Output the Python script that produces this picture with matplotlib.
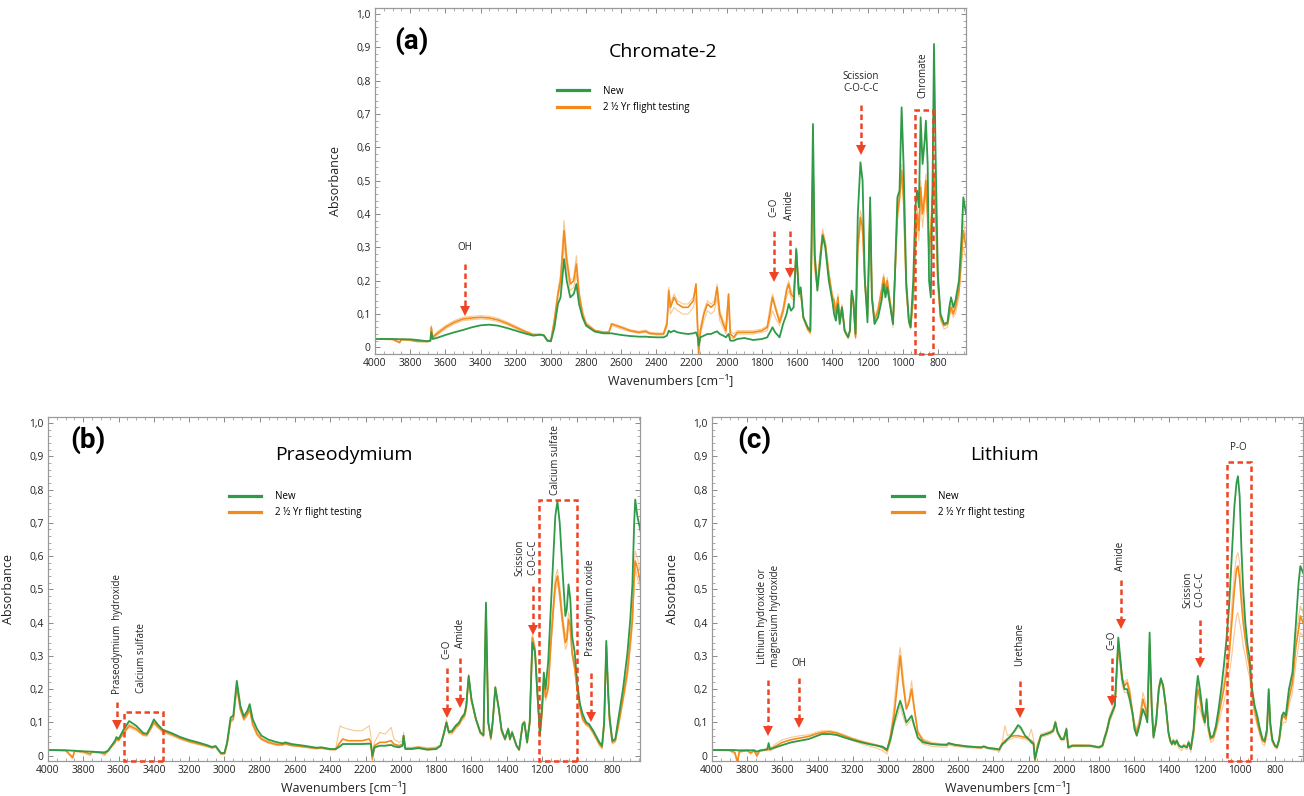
import matplotlib
matplotlib.use('Agg')
import matplotlib.pyplot as plt
from matplotlib.patches import Rectangle
from matplotlib.lines import Line2D
from matplotlib.ticker import MultipleLocator, FuncFormatter

plt.rcParams['font.family'] = ['Open Sans', 'DejaVu Sans']

# ---------------- data: panel (a) Chromate-2 ----------------
A_WN = [4000, 3900, 3860, 3850, 3800, 3760, 3700, 3685, 3680, 3672,
        3650, 3600, 3550, 3500, 3450, 3400, 3350, 3300, 3250, 3200,
        3150, 3100, 3060, 3040, 3020, 3000, 2980, 2960, 2945, 2925,
        2910, 2890, 2870, 2855, 2840, 2820, 2800, 2750, 2700, 2670,
        2655, 2600, 2550, 2500, 2460, 2440, 2400, 2360, 2340, 2330,
        2320, 2300, 2280, 2250, 2220, 2190, 2175, 2165, 2160, 2150,
        2130, 2110, 2090, 2070, 2055, 2040, 2020, 2005, 1990, 1980,
        1960, 1940, 1900, 1850, 1800, 1770, 1755, 1740, 1725, 1700,
        1680, 1660, 1648, 1635, 1620, 1605, 1590, 1580, 1565, 1540,
        1525, 1510, 1500, 1485, 1470, 1455, 1440, 1420, 1400, 1390,
        1380, 1368, 1358, 1345, 1330, 1310, 1300, 1290, 1280, 1268,
        1255, 1240, 1228, 1215, 1200, 1185, 1175, 1160, 1140, 1120,
        1108, 1098, 1088, 1070, 1055, 1045, 1030, 1018, 1006, 995,
        980, 965, 955, 940, 928, 918, 908, 898, 887, 875,
        868, 858, 850, 840, 830, 822, 812, 800, 785, 765,
        745, 735, 725, 712, 700, 680, 665, 655, 640]
A_NEW = [.025, .025, .024, .024, .024, .022, .018, .02, .045, .025,
         .028, .037, .045, .052, .06, .066, .068, .065, .058, .05,
         .042, .035, .038, .036, .02, .018, .06, .13, .15, .265,
         .2, .15, .16, .19, .13, .09, .065, .047, .042, .042,
         .042, .037, .034, .032, .032, .031, .03, .03, .035, .05,
         .045, .05, .045, .042, .04, .042, .045, .03, .005, .03,
         .035, .04, .04, .045, .048, .04, .035, .03, .04, .02,
         .02, .025, .028, .022, .025, .03, .045, .06, .045, .03,
         .07, .1, .13, .11, .12, .295, .16, .18, .09, .06,
         .05, .67, .28, .17, .25, .335, .3, .2, .14, .1,
         .08, .13, .07, .12, .05, .03, .05, .17, .14, .04,
         .4, .555, .5, .2, .075, .45, .15, .07, .09, .14,
         .19, .15, .18, .12, .07, .2, .45, .47, .72, .55,
         .2, .08, .06, .2, .42, .47, .42, .69, .55, .62,
         .68, .55, .2, .15, .5, .91, .55, .22, .1, .07,
         .075, .12, .15, .12, .14, .2, .33, .45, .4]
A_AGED = [.025, .024, .015, .024, .022, .018, .018, .02, .06, .03,
          .04, .06, .075, .085, .088, .09, .088, .082, .072, .06,
          .048, .038, .038, .036, .02, .02, .08, .16, .2, .35,
          .26, .19, .2, .25, .16, .1, .07, .05, .045, .045,
          .07, .06, .05, .045, .048, .042, .04, .04, .07, .17,
          .12, .15, .13, .12, .12, .14, .19, .05, -.02, .05,
          .1, .13, .12, .13, .18, .1, .07, .05, .16, .04,
          .03, .045, .045, .045, .05, .06, .1, .15, .12, .075,
          .11, .17, .19, .16, .15, .29, .16, .17, .09, .055,
          .045, .55, .25, .18, .27, .34, .31, .22, .15, .14,
          .1, .15, .08, .12, .05, .03, .05, .16, .13, .03,
          .3, .39, .36, .2, .1, .42, .15, .08, .11, .17,
          .21, .17, .2, .13, .07, .2, .4, .45, .53, .45,
          .18, .08, .06, .15, .3, .4, .35, .48, .4, .45,
          .5, .4, .28, .35, .45, .52, .4, .2, .09, .065,
          .07, .1, .12, .1, .12, .17, .28, .35, .3]
A_AGED_HI = [.026, .025, .024, .025, .024, .020, .020, .021, .065, .032,
             .045, .065, .08, .09, .093, .095, .093, .087, .076, .064,
             .051, .04, .04, .038, .022, .022, .09, .17, .22, .38,
             .28, .2, .21, .275, .17, .11, .075, .052, .047, .047,
             .072, .063, .053, .048, .052, .045, .043, .043, .08, .18,
             .13, .16, .14, .13, .13, .15, .19, .06, 0, .06,
             .11, .14, .13, .14, .19, .11, .08, .06, .16, .05,
             .04, .05, .05, .05, .055, .065, .12, .16, .13, .085,
             .12, .18, .2, .17, .16, .3, .17, .18, .095, .06,
             .05, .6, .27, .19, .28, .355, .32, .23, .16, .15,
             .11, .16, .09, .13, .055, .035, .055, .17, .14, .035,
             .32, .41, .38, .21, .11, .43, .16, .09, .12, .18,
             .22, .18, .21, .14, .08, .21, .42, .47, .55, .47,
             .19, .09, .065, .17, .33, .42, .38, .5, .42, .47,
             .52, .42, .3, .37, .47, .55, .42, .21, .1, .07,
             .075, .11, .13, .11, .13, .18, .3, .38, .33]
A_AGED_LO = [.024, .023, .012, .022, .020, .016, .016, .019, .05, .028,
             .035, .055, .07, .08, .083, .085, .083, .077, .068, .056,
             .045, .036, .036, .034, .018, .018, .07, .15, .18, .31,
             .23, .17, .18, .22, .15, .09, .065, .048, .043, .043,
             .065, .055, .047, .042, .045, .04, .037, .037, .06, .14,
             .1, .12, .11, .1, .1, .12, .15, .04, -.02, .04,
             .08, .11, .1, .11, .15, .08, .06, .04, .12, .03,
             .025, .04, .04, .04, .045, .05, .08, .11, .09, .065,
             .1, .15, .17, .15, .14, .28, .15, .16, .085, .05,
             .04, .5, .23, .17, .26, .33, .3, .21, .14, .12,
             .09, .14, .07, .11, .045, .025, .045, .15, .12, .025,
             .28, .37, .34, .18, .09, .4, .14, .07, .1, .16,
             .2, .16, .19, .12, .06, .19, .38, .43, .5, .43,
             .17, .07, .055, .13, .28, .36, .32, .45, .36, .42,
             .47, .36, .25, .3, .42, .48, .36, .18, .08, .055,
             .06, .09, .11, .09, .1, .15, .25, .3, .27]

# ---------------- data: panel (b) Praseodymium ----------------
B_WN = [4000, 3900, 3860, 3850, 3800, 3760, 3750, 3700, 3680, 3660,
        3640, 3620, 3612, 3600, 3570, 3540, 3500, 3460, 3440, 3420,
        3400, 3380, 3350, 3300, 3250, 3200, 3150, 3100, 3070, 3050,
        3020, 3000, 2985, 2965, 2950, 2930, 2910, 2890, 2870, 2857,
        2840, 2815, 2790, 2750, 2700, 2670, 2655, 2620, 2550, 2480,
        2450, 2400, 2370, 2345, 2330, 2300, 2260, 2220, 2180, 2170,
        2162, 2150, 2120, 2090, 2055, 2040, 2010, 1990, 1985, 1975,
        1940, 1900, 1850, 1800, 1775, 1755, 1742, 1728, 1710, 1690,
        1670, 1655, 1640, 1630, 1616, 1600, 1575, 1550, 1532, 1518,
        1505, 1490, 1480, 1465, 1445, 1430, 1410, 1392, 1382, 1370,
        1345, 1330, 1310, 1300, 1285, 1270, 1255, 1240, 1228, 1212,
        1200, 1190, 1180, 1165, 1150, 1135, 1125, 1113, 1100, 1085,
        1068, 1060, 1050, 1040, 1030, 1015, 1000, 985, 970, 950,
        934, 910, 890, 875, 860, 848, 836, 826, 818, 802,
        785, 765, 740, 716, 700, 688, 678, 672, 660, 640]
B_NEW = [.017, .016, .015, .015, .013, .012, .012, .01, .01, .015,
         .03, .045, .056, .05, .08, .104, .09, .068, .066, .085,
         .109, .095, .078, .068, .056, .047, .04, .032, .026, .029,
         .008, .008, .04, .115, .12, .225, .15, .118, .135, .155,
         .11, .08, .06, .048, .04, .037, .04, .035, .03, .024,
         .025, .02, .02, .028, .035, .035, .035, .035, .036, .035,
         0, .025, .03, .03, .032, .028, .025, .03, .06, .02,
         .02, .023, .018, .02, .03, .07, .1, .07, .075, .09,
         .1, .115, .125, .15, .24, .17, .11, .07, .062, .46,
         .1, .055, .1, .205, .14, .08, .05, .08, .05, .07,
         .03, .018, .095, .1, .04, .1, .34, .31, .2, .065,
         .15, .25, .2, .285, .45, .615, .72, .765, .70, .565,
         .42, .44, .515, .47, .36, .31, .215, .155, .125, .1,
         .095, .075, .055, .04, .03, .1, .345, .2, .12, .045,
         .05, .12, .205, .31, .41, .515, .70, .77, .72, .67]
B_AGED = [.017, .016, -.005, .014, .012, .005, .012, .01, .005, .014,
          .028, .04, .05, .046, .07, .09, .08, .063, .062, .08,
          .1, .088, .074, .064, .052, .043, .036, .029, .024, .027,
          .006, .006, .035, .105, .11, .21, .14, .11, .125, .14,
          .095, .065, .05, .04, .033, .033, .036, .031, .027, .022,
          .023, .019, .019, .04, .05, .045, .045, .045, .05, .04,
          -.01, .03, .04, .04, .045, .035, .03, .035, .06, .022,
          .022, .025, .02, .022, .03, .07, .1, .07, .07, .085,
          .095, .11, .12, .14, .235, .165, .11, .07, .06, .45,
          .1, .05, .1, .205, .14, .075, .05, .08, .05, .07,
          .03, .018, .095, .1, .04, .1, .355, .32, .2, .06,
          .13, .225, .175, .205, .34, .45, .515, .54, .49, .41,
          .34, .35, .41, .39, .31, .265, .195, .145, .11, .095,
          .09, .07, .05, .035, .025, .1, .33, .19, .11, .04,
          .045, .1, .175, .255, .34, .41, .535, .585, .565, .515]
B_AGED_HI = [.018, .017, .015, .015, .013, .012, .013, .011, .01, .016,
             .03, .045, .055, .05, .075, .095, .085, .066, .065, .083,
             .104, .092, .077, .067, .055, .046, .039, .031, .026, .029,
             .008, .008, .04, .11, .115, .215, .145, .113, .13, .145,
             .1, .07, .053, .043, .035, .035, .038, .033, .029, .024,
             .025, .021, .021, .09, .085, .08, .075, .075, .09, .06,
             0, .04, .07, .065, .085, .05, .04, .045, .07, .025,
             .025, .028, .024, .026, .033, .075, .108, .075, .075, .09,
             .1, .118, .128, .15, .245, .17, .115, .073, .063, .46,
             .105, .053, .105, .21, .145, .08, .053, .085, .053, .075,
             .033, .02, .1, .105, .045, .11, .365, .33, .21, .065,
             .14, .235, .185, .215, .36, .47, .535, .56, .51, .43,
             .36, .37, .43, .41, .32, .275, .205, .155, .115, .1,
             .095, .075, .055, .04, .03, .11, .34, .2, .12, .045,
             .05, .11, .185, .275, .36, .43, .565, .615, .595, .545]
B_AGED_LO = [.016, .015, -.01, .013, .008, 0, .01, .006, 0, .012,
             .025, .038, .048, .044, .065, .085, .075, .06, .058, .075,
             .095, .084, .07, .06, .049, .04, .033, .027, .022, .025,
             .004, .004, .03, .1, .105, .2, .135, .105, .12, .135,
             .09, .06, .047, .037, .03, .031, .034, .029, .025, .02,
             .021, .017, .017, .03, .035, .037, .037, .037, .038, .035,
             -.015, .02, .03, .03, .035, .03, .025, .03, .05, .02,
             .019, .021, .017, .019, .028, .065, .092, .065, .065, .08,
             .09, .105, .113, .135, .225, .16, .105, .065, .057, .44,
             .095, .047, .095, .2, .135, .07, .045, .075, .045, .065,
             .027, .015, .09, .095, .035, .09, .345, .31, .19, .055,
             .12, .215, .165, .195, .32, .43, .495, .52, .47, .39,
             .32, .33, .39, .37, .3, .255, .185, .135, .105, .09,
             .085, .065, .045, .03, .02, .09, .32, .18, .1, .035,
             .04, .09, .165, .235, .32, .39, .515, .565, .535, .495]

# ---------------- data: panel (c) Lithium ----------------
C_WN = [4000, 3900, 3870, 3855, 3845, 3800, 3780, 3760, 3745, 3730,
        3700, 3685, 3678, 3670, 3640, 3600, 3550, 3500, 3450, 3410,
        3375, 3330, 3290, 3250, 3200, 3150, 3100, 3060, 3030, 3005,
        2985, 2965, 2945, 2930, 2915, 2895, 2880, 2865, 2850, 2830,
        2800, 2750, 2700, 2665, 2655, 2620, 2550, 2470, 2455, 2430,
        2380, 2368, 2350, 2335, 2320, 2300, 2280, 2260, 2245, 2220,
        2200, 2185, 2172, 2164, 2150, 2130, 2100, 2075, 2060, 2048,
        2035, 2015, 2000, 1985, 1975, 1950, 1900, 1850, 1800, 1780,
        1768, 1755, 1740, 1725, 1710, 1700, 1690, 1680, 1668, 1655,
        1640, 1625, 1610, 1598, 1585, 1570, 1550, 1535, 1525, 1512,
        1500, 1490, 1475, 1460, 1448, 1435, 1420, 1405, 1395, 1385,
        1377, 1368, 1358, 1345, 1330, 1318, 1300, 1290, 1278, 1262,
        1250, 1238, 1226, 1210, 1198, 1188, 1178, 1165, 1150, 1135,
        1120, 1105, 1090, 1075, 1060, 1045, 1030, 1018, 1010, 1000,
        990, 980, 968, 955, 945, 930, 915, 900, 885, 870,
        858, 845, 835, 826, 815, 800, 788, 775, 760, 750,
        738, 720, 700, 680, 665, 655, 640]
C_NEW = [.017, .017, .017, .016, .016, .016, .016, .016, .012, .015,
         .018, .02, .038, .02, .025, .032, .04, .045, .05, .058,
         .065, .065, .062, .055, .047, .04, .034, .03, .027, .018,
         .05, .1, .14, .165, .14, .1, .11, .12, .09, .055,
         .04, .035, .033, .033, .038, .033, .028, .025, .028, .023,
         .02, .018, .035, .04, .05, .06, .075, .092, .085, .06,
         .05, .04, .035, -.01, .02, .06, .065, .07, .075, .1,
         .07, .05, .05, .08, .025, .03, .03, .03, .025, .03,
         .055, .075, .11, .13, .15, .25, .355, .3, .23, .2,
         .2, .17, .13, .08, .06, .09, .14, .12, .1, .37,
         .15, .055, .1, .2, .232, .21, .15, .07, .045, .035,
         .045, .035, .045, .03, .025, .03, .025, .04, .02, .08,
         .18, .24, .2, .13, .1, .17, .09, .055, .06, .09,
         .14, .2, .27, .35, .45, .6, .75, .82, .84, .78,
         .62, .5, .4, .33, .3, .2, .15, .12, .08, .05,
         .045, .08, .2, .1, .05, .03, .025, .05, .12, .13,
         .12, .2, .25, .4, .52, .57, .55]
C_AGED = [.017, .016, .01, -.02, .012, .016, .008, .016, 0, .015,
          .017, .018, .02, .018, .028, .04, .048, .053, .058, .065,
          .07, .072, .068, .06, .05, .042, .035, .03, .024, .014,
          .06, .12, .22, .3, .22, .14, .16, .2, .14, .07,
          .045, .035, .033, .032, .036, .032, .027, .024, .027, .023,
          .02, .018, .035, .045, .05, .058, .06, .06, .058, .055,
          .05, .045, .04, -.015, .03, .06, .065, .07, .075, .1,
          .07, .05, .05, .08, .025, .03, .03, .03, .025, .03,
          .05, .075, .11, .13, .15, .24, .33, .29, .23, .21,
          .22, .19, .13, .09, .07, .1, .17, .14, .11, .33,
          .14, .06, .1, .2, .232, .21, .15, .07, .045, .035,
          .045, .035, .045, .03, .025, .03, .025, .04, .02, .07,
          .15, .2, .17, .12, .1, .16, .08, .05, .055, .08,
          .12, .16, .2, .25, .3, .4, .5, .56, .57, .53,
          .46, .4, .35, .3, .27, .19, .14, .1, .07, .045,
          .04, .07, .19, .09, .045, .03, .025, .05, .11, .12,
          .11, .17, .22, .33, .38, .42, .4]
C_AGED_HI = [.018, .018, .017, .016, .016, .018, .016, .018, .012, .017,
             .019, .02, .025, .02, .035, .048, .055, .06, .063, .07,
             .075, .075, .071, .063, .053, .045, .038, .033, .027, .017,
             .065, .15, .27, .325, .25, .15, .17, .225, .15, .075,
             .05, .04, .036, .035, .038, .034, .029, .026, .029, .025,
             .022, .02, .04, .09, .06, .065, .07, .085, .08, .06,
             .055, .08, .05, -.01, .035, .065, .07, .075, .08, .105,
             .075, .055, .055, .085, .03, .033, .033, .032, .028, .035,
             .06, .085, .12, .14, .16, .25, .35, .3, .24, .22,
             .23, .2, .14, .1, .08, .11, .19, .16, .12, .35,
             .15, .065, .11, .21, .235, .215, .16, .075, .05, .04,
             .05, .04, .05, .032, .028, .035, .03, .045, .025, .08,
             .17, .22, .19, .13, .11, .17, .09, .055, .06, .09,
             .13, .18, .22, .28, .33, .45, .55, .6, .61, .58,
             .5, .44, .38, .33, .3, .21, .15, .11, .08, .05,
             .045, .08, .2, .1, .05, .035, .03, .055, .12, .13,
             .12, .19, .24, .36, .42, .45, .43]
C_AGED_LO = [.016, .015, .005, -.025, .01, .014, .005, .014, -.005, .013,
             .015, .015, .015, .015, .022, .033, .04, .045, .05, .058,
             .065, .067, .064, .056, .045, .036, .028, .022, .015, .005,
             .04, .09, .12, .15, .12, .09, .1, .11, .085, .05,
             .035, .028, .026, .026, .032, .028, .024, .022, .025, .02,
             .015, .01, .03, .04, .045, .05, .055, .055, .052, .05,
             .045, .04, .035, -.02, .025, .055, .06, .065, .07, .095,
             .065, .045, .045, .07, .02, .027, .027, .027, .022, .027,
             .045, .065, .1, .12, .14, .22, .32, .27, .21, .19,
             .19, .16, .12, .08, .06, .09, .14, .12, .1, .3,
             .12, .05, .09, .19, .225, .2, .14, .065, .04, .03,
             .04, .03, .04, .022, .015, .025, .018, .035, .01, .06,
             .12, .15, .14, .11, .09, .14, .07, .04, .045, .07,
             .1, .13, .16, .2, .24, .3, .37, .42, .43, .4,
             .37, .33, .3, .26, .24, .17, .12, .09, .06, .035,
             .03, .06, .17, .08, .04, .025, .02, .04, .09, .1,
             .1, .15, .19, .28, .33, .37, .36]

SERIES_LABELS = ['New', '2 ½ Yr flight testing']
Y_TICKS = [0, .1, .2, .3, .4, .5, .6, .7, .8, .9, 1.0]

# ---------------- styling ----------------
GREEN = '#2f9a48'
ORANGE = '#f28a1c'
FAINT = '#f7c286'
RED = '#ee4423'
W, H = 1304, 796

fig = plt.figure(figsize=(W / 100, H / 100), dpi=100)


def make_axes(l, r, t, b):
    return fig.add_axes([l / W, 1 - b / H, (r - l) / W, (b - t) / H])


def yfmt(v, p):
    if abs(v) < 1e-9:
        return '0'
    return f'{v:.1f}'.replace('.', ',')


def style(ax, xlim, ylim):
    ax.set_xlim(*xlim)
    ax.set_ylim(*ylim)
    ax.xaxis.set_major_locator(MultipleLocator(200))
    ax.xaxis.set_minor_locator(MultipleLocator(50))
    ax.set_yticks(Y_TICKS)
    ax.yaxis.set_minor_locator(MultipleLocator(0.02))
    ax.yaxis.set_major_formatter(FuncFormatter(yfmt))
    ax.xaxis.set_major_formatter(FuncFormatter(lambda v, p: f'{int(round(v))}'))
    ax.tick_params(which='both', direction='in', top=True, right=True,
                   color='#8a8a8a', labelsize=7.4, labelcolor='#222222', pad=3)
    ax.tick_params(which='major', length=3.5, width=0.7)
    ax.tick_params(which='minor', length=2, width=0.5)
    for s in ax.spines.values():
        s.set_color('#9a9a9a')
        s.set_linewidth(0.9)
    ax.set_ylabel('Absorbance', fontsize=9, color='#222222')
    ax.set_xlabel('Wavenumbers [cm⁻¹]', fontsize=9, color='#222222')
    ax.yaxis.set_label_coords(-0.056, 0.5)
    ax.xaxis.set_label_coords(0.5, -0.058)


def spectra(ax, wn, new, aged, hi, lo):
    ax.plot(wn, hi, color=FAINT, lw=0.8, alpha=0.9)
    ax.plot(wn, lo, color=FAINT, lw=0.8, alpha=0.9)
    ax.plot(wn, aged, color=ORANGE, lw=1.2)
    ax.plot(wn, new, color=GREEN, lw=1.3)


def legend(ax, x, y):
    handles = [Line2D([], [], color=GREEN, lw=2.3), Line2D([], [], color=ORANGE, lw=2.3)]
    ax.legend(handles, SERIES_LABELS, loc='upper left', bbox_to_anchor=(x, y),
              frameon=False, fontsize=7, handlelength=3.3, handletextpad=1.4,
              labelspacing=0.55, borderpad=0, borderaxespad=0)


DASH = (0, (2.2, 1.4))


def arrow(ax, x, y_top, y_tip):
    ax.plot([x, x], [y_top, y_tip + 0.012], color=RED, lw=1.8, ls=DASH,
            dash_capstyle='butt')
    ax.plot([x], [y_tip + 0.012], marker='v', ms=7, color=RED, mew=0)


def box(ax, x0, x1, top, bottom):
    ax.add_patch(Rectangle((x1, bottom), x0 - x1, top - bottom, fill=False,
                           ec=RED, lw=1.8, ls=DASH, clip_on=False, zorder=5))


def label(ax, x, y, s, rot=90, size=7):
    ax.text(x, y, s, rotation=rot, ha='center', va='center', fontsize=size,
            color='#222222', multialignment='center')


def heading(ax, tag, title, tx, ty, hx, hy):
    ax.text(tx, ty, tag, transform=ax.transAxes, fontsize=20, fontweight='bold',
            ha='center', va='center', family=['Roboto', 'DejaVu Sans'])
    ax.text(hx, hy, title, transform=ax.transAxes, fontsize=14,
            ha='center', va='center')


# ---------------- panel (a) ----------------
YA = (-0.02, 1.018)
axa = make_axes(375, 966, 8, 354)
style(axa, (4000, 640), YA)
spectra(axa, A_WN, A_NEW, A_AGED, A_AGED_HI, A_AGED_LO)
heading(axa, '(a)', 'Chromate-2', 0.061, 0.905, 0.487, 0.873)
legend(axa, 0.308, 0.775)
label(axa, 3488, 0.298, 'OH', rot=0)
arrow(axa, 3488, 0.25, 0.097)
label(axa, 1732, 0.42, 'C=O')
arrow(axa, 1732, 0.35, 0.2)
label(axa, 1641, 0.425, 'Amide')
arrow(axa, 1641, 0.35, 0.21)
label(axa, 1239, 0.795, 'Scission\nC-O-C-C', rot=0)
arrow(axa, 1239, 0.728, 0.58)
label(axa, 886, 0.815, 'Chromate')
box(axa, 930, 828, 0.711, YA[0])

# ---------------- panel (b) ----------------
YB = (-0.016, 1.018)
axb = make_axes(48, 640, 417, 761)
style(axb, (4000, 645), YB)
spectra(axb, B_WN, B_NEW, B_AGED, B_AGED_HI, B_AGED_LO)
heading(axb, '(b)', 'Praseodymium', 0.067, 0.933, 0.5, 0.89)
legend(axb, 0.306, 0.785)
label(axb, 3608, 0.365, 'Praseodymium  hydroxide')
arrow(axb, 3608, 0.16, 0.081)
label(axb, 3470, 0.293, 'Calcium sulfate')
box(axb, 3568, 3351, 0.13, YB[0])
label(axb, 1741, 0.321, 'C=O')
arrow(axb, 1741, 0.265, 0.115)
label(axb, 1664, 0.367, 'Amide')
arrow(axb, 1664, 0.295, 0.145)
label(axb, 1290, 0.596, 'Scission\nC-O-C-C')
arrow(axb, 1254, 0.51, 0.366)
label(axb, 1123, 0.89, 'Calcium sulfate')
box(axb, 1217, 1000, 0.768, YB[0])
label(axb, 925, 0.446, 'Praseodymium oxide')
arrow(axb, 925, 0.25, 0.105)

# ---------------- panel (c) ----------------
axc = make_axes(712, 1303, 417, 761)
style(axc, (4000, 640), YB)
spectra(axc, C_WN, C_NEW, C_AGED, C_AGED_HI, C_AGED_LO)
heading(axc, '(c)', 'Lithium', 0.071, 0.933, 0.495, 0.89)
legend(axc, 0.305, 0.785)
label(axc, 3677, 0.42, 'Lithium hydroxide or\nmagnesium hydroxide')
arrow(axc, 3679, 0.228, 0.062)
label(axc, 3504, 0.278, 'OH', rot=0)
arrow(axc, 3504, 0.233, 0.087)
label(axc, 2251, 0.334, 'Urethane')
arrow(axc, 2251, 0.225, 0.117)
label(axc, 1728, 0.348, 'C=O')
arrow(axc, 1728, 0.293, 0.152)
label(axc, 1677, 0.6, 'Amide')
arrow(axc, 1677, 0.528, 0.383)
label(axc, 1260, 0.5, 'Scission\nC-O-C-C')
arrow(axc, 1227, 0.408, 0.268)
label(axc, 1009, 0.925, 'P-O', rot=0)
box(axc, 1073, 935, 0.883, YB[0])

fig.savefig('out.png', dpi=100)
